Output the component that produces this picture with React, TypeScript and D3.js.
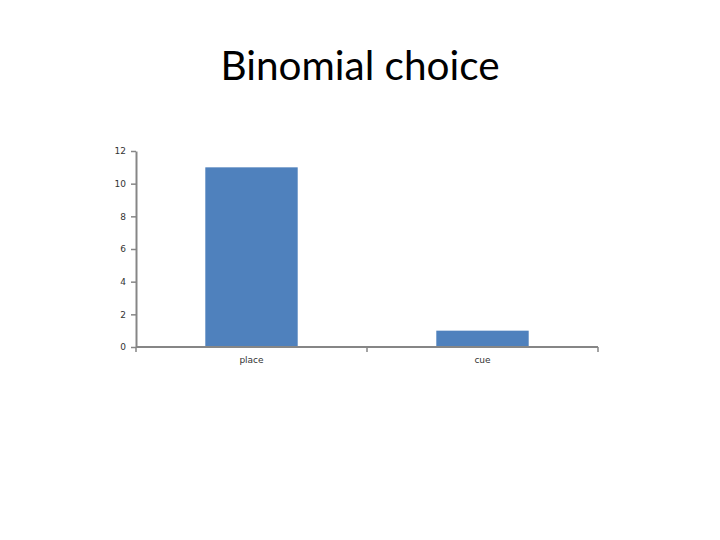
import React, { useEffect, useRef } from "react";
import * as d3 from "d3";

const categories = ["place", "cue"];
const counts = [11, 1];
const yTicks = [0, 2, 4, 6, 8, 10, 12];

const W = 720;
const H = 540;
const margin = { left: 136, right: 122, top: 151, bottom: 193 };

const App: React.FC = () => {
  const svgRef = useRef<SVGSVGElement | null>(null);

  useEffect(() => {
    if (!svgRef.current) return;
    const svg = d3.select(svgRef.current);
    svg.selectAll("*").remove();

    const x = d3.scaleBand<string>()
      .domain(categories)
      .range([margin.left, W - margin.right])
      .paddingInner(0.6)
      .paddingOuter(0.3);

    const y = d3.scaleLinear()
      .domain([0, 12])
      .range([H - margin.bottom, margin.top]);

    svg.append("text")
      .attr("x", W / 2)
      .attr("y", 80)
      .attr("text-anchor", "middle")
      .style("font-family", "Lato, 'Open Sans', sans-serif")
      .style("font-size", "40.5px")
      .style("fill", "#000")
      .text("Binomial choice");

    // bars
    svg.selectAll("rect.bar")
      .data(categories)
      .enter()
      .append("rect")
      .attr("class", "bar")
      .attr("x", (d) => x(d)!)
      .attr("width", x.bandwidth())
      .attr("y", (d, i) => y(counts[i]))
      .attr("height", (d, i) => y(0) - y(counts[i]))
      .attr("fill", "#4f81bd");

    // y axis
    const yAxis = svg.append("g")
      .attr("transform", `translate(${margin.left},0)`)
      .call(d3.axisLeft(y).tickValues(yTicks).tickSize(5).tickSizeOuter(0).tickPadding(5));

    // x axis: ticks at band boundaries, labels at band centres
    const step = x.step();
    const boundaries = d3.range(categories.length + 1).map((i) => margin.left + i * step);
    const xAxis = svg.append("g").attr("transform", `translate(0,${y(0)})`);
    xAxis.append("line")
      .attr("x1", margin.left)
      .attr("x2", W - margin.right)
      .attr("stroke", "#868686")
      .attr("stroke-width", 2);
    xAxis.selectAll("line.tick")
      .data(boundaries)
      .enter()
      .append("line")
      .attr("class", "tick")
      .attr("x1", (d) => d)
      .attr("x2", (d) => d)
      .attr("y1", 0)
      .attr("y2", 5)
      .attr("stroke", "#868686")
      .attr("stroke-width", 1.5);
    xAxis.selectAll("text")
      .data(categories)
      .enter()
      .append("text")
      .attr("x", (d) => x(d)! + x.bandwidth() / 2)
      .attr("y", 16)
      .attr("text-anchor", "middle")
      .style("font-family", "'DejaVu Sans', sans-serif")
      .style("font-size", "9px")
      .style("fill", "#333")
      .text((d) => d);

    yAxis.select(".domain").attr("stroke", "#868686").attr("stroke-width", 2);
    yAxis.selectAll(".tick line").attr("stroke", "#868686").attr("stroke-width", 1.5);
    yAxis.selectAll(".tick text")
      .style("font-family", "'DejaVu Sans', sans-serif")
      .style("font-size", "9px")
      .style("fill", "#333");
  }, []);

  return (
    <div style={{ position: "absolute", left: 0, top: 0 }}>
      <svg ref={svgRef} width={W} height={H} style={{ display: "block", background: "#fff" }}></svg>
    </div>
  );
};

export default App;
